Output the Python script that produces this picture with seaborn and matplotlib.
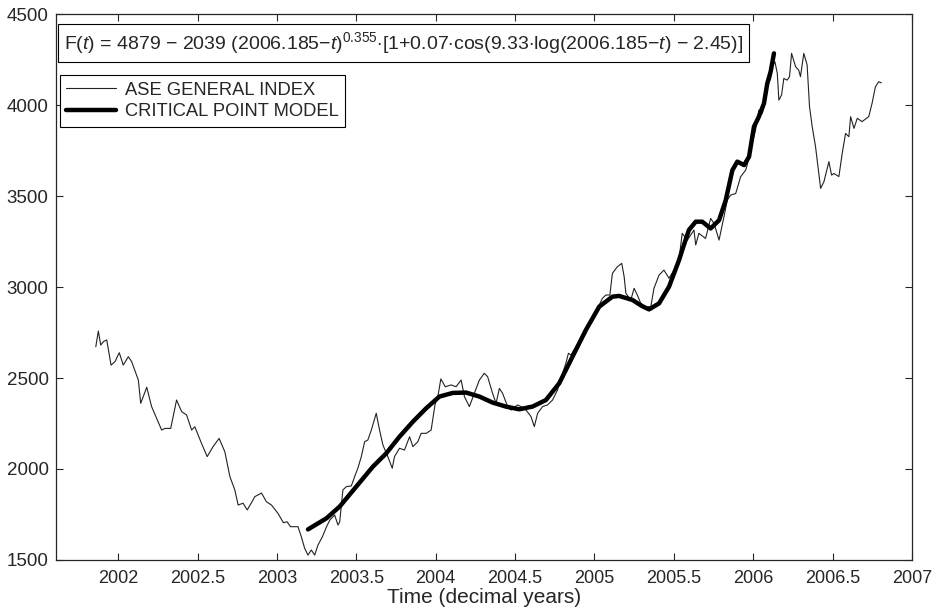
import numpy as np
import pandas as pd
import matplotlib
matplotlib.use("Agg")
import matplotlib.pyplot as plt
import seaborn as sns

# ASE general index
index_t = [2001.858, 2001.874, 2001.889, 2001.906, 2001.927, 2001.954, 2001.979, 2002.006,
           2002.031, 2002.063, 2002.084, 2002.126, 2002.141, 2002.179, 2002.210, 2002.273,
           2002.294, 2002.330, 2002.367, 2002.399, 2002.430, 2002.462, 2002.482, 2002.524,
           2002.560, 2002.597, 2002.635, 2002.671, 2002.703, 2002.734, 2002.755, 2002.786,
           2002.812, 2002.849, 2002.860, 2002.902, 2002.933, 2002.965, 2003.006, 2003.040,
           2003.063, 2003.085, 2003.132, 2003.153, 2003.174, 2003.195, 2003.216, 2003.237,
           2003.258, 2003.286, 2003.312, 2003.333, 2003.363, 2003.384, 2003.395, 2003.415,
           2003.437, 2003.468, 2003.489, 2003.509, 2003.531, 2003.552, 2003.572, 2003.594,
           2003.625, 2003.646, 2003.667, 2003.698, 2003.726, 2003.740, 2003.772, 2003.803,
           2003.835, 2003.856, 2003.887, 2003.908, 2003.940, 2003.971, 2003.995, 2004.013,
           2004.032, 2004.060, 2004.097, 2004.128, 2004.160, 2004.181, 2004.212, 2004.243,
           2004.275, 2004.306, 2004.327, 2004.358, 2004.380, 2004.401, 2004.421, 2004.453,
           2004.474, 2004.516, 2004.537, 2004.569, 2004.600, 2004.621, 2004.642, 2004.673,
           2004.704, 2004.736, 2004.767, 2004.799, 2004.820, 2004.836, 2004.852, 2004.883,
           2004.915, 2004.946, 2004.967, 2004.998, 2005.030, 2005.050, 2005.072, 2005.097,
           2005.113, 2005.145, 2005.172, 2005.187, 2005.198, 2005.229, 2005.250, 2005.270,
           2005.292, 2005.323, 2005.355, 2005.375, 2005.407, 2005.438, 2005.470, 2005.501,
           2005.532, 2005.553, 2005.585, 2005.627, 2005.638, 2005.658, 2005.700, 2005.732,
           2005.753, 2005.785, 2005.816, 2005.837, 2005.858, 2005.890, 2005.921, 2005.953,
           2005.962, 2005.994, 2006.015, 2006.036, 2006.057, 2006.074, 2006.089, 2006.110,
           2006.120, 2006.137, 2006.152, 2006.162, 2006.179, 2006.193, 2006.214, 2006.229,
           2006.242, 2006.267, 2006.287, 2006.298, 2006.319, 2006.340, 2006.355, 2006.372,
           2006.393, 2006.403, 2006.425, 2006.446, 2006.477, 2006.494, 2006.509, 2006.540,
           2006.561, 2006.582, 2006.603, 2006.614, 2006.635, 2006.656, 2006.686, 2006.728,
           2006.749, 2006.770, 2006.791, 2006.808]
index_v = [2672, 2758, 2681, 2700, 2709, 2571, 2590, 2639,
           2571, 2617, 2590, 2489, 2361, 2449, 2342, 2214,
           2223, 2223, 2379, 2315, 2297, 2214, 2232, 2141,
           2068, 2123, 2168, 2095, 1958, 1885, 1802, 1812,
           1775, 1830, 1848, 1868, 1820, 1802, 1756, 1705,
           1710, 1683, 1683, 1628, 1564, 1527, 1555, 1527,
           1582, 1628, 1683, 1720, 1747, 1692, 1710, 1885,
           1903, 1907, 1958, 2004, 2068, 2150, 2159, 2214,
           2306, 2214, 2132, 2068, 2004, 2068, 2114, 2104,
           2177, 2123, 2150, 2196, 2196, 2214, 2352, 2397,
           2495, 2452, 2462, 2452, 2489, 2397, 2343, 2416,
           2489, 2526, 2507, 2416, 2361, 2443, 2416, 2343,
           2324, 2352, 2343, 2324, 2288, 2233, 2306, 2343,
           2352, 2379, 2434, 2526, 2581, 2636, 2626, 2672,
           2709, 2746, 2801, 2856, 2901, 2938, 2956, 2956,
           3075, 3112, 3130, 3057, 2965, 2929, 2993, 2956,
           2910, 2892, 2892, 2993, 3066, 3093, 3048, 3093,
           3148, 3295, 3258, 3313, 3231, 3295, 3267, 3377,
           3350, 3258, 3386, 3478, 3505, 3514, 3606, 3643,
           3670, 3790, 3863, 3973, 3954, 4009, 4100, 4146,
           4211, 4238, 4174, 4027, 4055, 4146, 4137, 4156,
           4284, 4211, 4192, 4156, 4284, 4220, 3991, 3881,
           3771, 3698, 3542, 3579, 3689, 3615, 3624, 3607,
           3734, 3844, 3826, 3936, 3872, 3927, 3909, 3936,
           4009, 4100, 4128, 4122]

# critical point model curve
model_t = [2003.195, 2003.311, 2003.394, 2003.499, 2003.604, 2003.688, 2003.772, 2003.856,
           2003.940, 2004.023, 2004.107, 2004.191, 2004.275, 2004.358, 2004.442, 2004.526,
           2004.610, 2004.694, 2004.778, 2004.862, 2004.946, 2005.030, 2005.113, 2005.155,
           2005.239, 2005.300, 2005.344, 2005.407, 2005.470, 2005.533, 2005.553, 2005.595,
           2005.638, 2005.679, 2005.732, 2005.785, 2005.827, 2005.869, 2005.900, 2005.943,
           2005.974, 2006.005, 2006.036, 2006.068, 2006.089, 2006.110, 2006.131]
model_v = [1668, 1729, 1793, 1903, 2013, 2086, 2178, 2260,
           2334, 2398, 2418, 2420, 2398, 2365, 2343, 2328,
           2343, 2379, 2471, 2618, 2764, 2892, 2947, 2951,
           2929, 2895, 2877, 2910, 3002, 3148, 3203, 3313,
           3359, 3359, 3322, 3367, 3477, 3642, 3689, 3670,
           3716, 3881, 3936, 4009, 4119, 4183, 4284]

x_ticks = [2002, 2002.5, 2003, 2003.5, 2004, 2004.5, 2005, 2005.5, 2006, 2006.5, 2007]
y_ticks = [1500, 2000, 2500, 3000, 3500, 4000, 4500]

formula = (r"F($t$) = 4879 $-$ 2039 (2006.185$-t$)$^{0.355}$$\cdot$[1+0.07$\cdot$cos(9.33$\cdot$"
           r"log(2006.185$-t$) $-$ 2.45)]")

sns.set_style("ticks")
plt.rcParams["font.family"] = ["Liberation Sans", "DejaVu Sans"]
plt.rcParams["mathtext.fontset"] = "custom"
plt.rcParams["mathtext.rm"] = "Liberation Sans"
plt.rcParams["mathtext.it"] = "Liberation Sans:italic"

df_index = pd.DataFrame({"t": index_t, "v": index_v})
df_model = pd.DataFrame({"t": model_t, "v": model_v})

fig = plt.figure(figsize=(9.43, 6.11), dpi=100)
ax = fig.add_axes([0.059, 0.0835, 0.908, 0.8935])

sns.lineplot(data=df_index, x="t", y="v", ax=ax, color="#222222", lw=0.8,
             label="ASE GENERAL INDEX", sort=False)
sns.lineplot(data=df_model, x="t", y="v", ax=ax, color="black", lw=3.2,
             label="CRITICAL POINT MODEL", sort=False)

ax.set_xlim(2001.605, 2007)
ax.set_ylim(1500, 4500)
ax.set_xticks(x_ticks)
ax.set_xticklabels([f"{t:g}" for t in x_ticks])
ax.set_yticks(y_ticks)
ax.tick_params(direction="in", length=5, top=True, right=True, width=0.8)
ax.tick_params(axis="x", labelsize=13, pad=7)
ax.tick_params(axis="y", labelsize=13.5, pad=5)
for s in ax.spines.values():
    s.set_linewidth(0.9)
ax.set_xlabel("Time (decimal years)", fontsize=15, labelpad=1)
ax.set_ylabel("")

ax.text(0.0095, 0.947, formula, transform=ax.transAxes, fontsize=14,
        va="center", ha="left",
        bbox=dict(boxstyle="square,pad=0.3", fc="white", ec="black", lw=0.8))

leg = ax.legend(loc="upper left", bbox_to_anchor=(0.005, 0.888), fontsize=13.2,
                frameon=True, fancybox=False, edgecolor="black", framealpha=1,
                handlelength=2.7, handletextpad=0.5, borderpad=0.35,
                labelspacing=0.25, borderaxespad=0)
leg.get_frame().set_linewidth(0.8)

fig.savefig("out.png", dpi=100)
